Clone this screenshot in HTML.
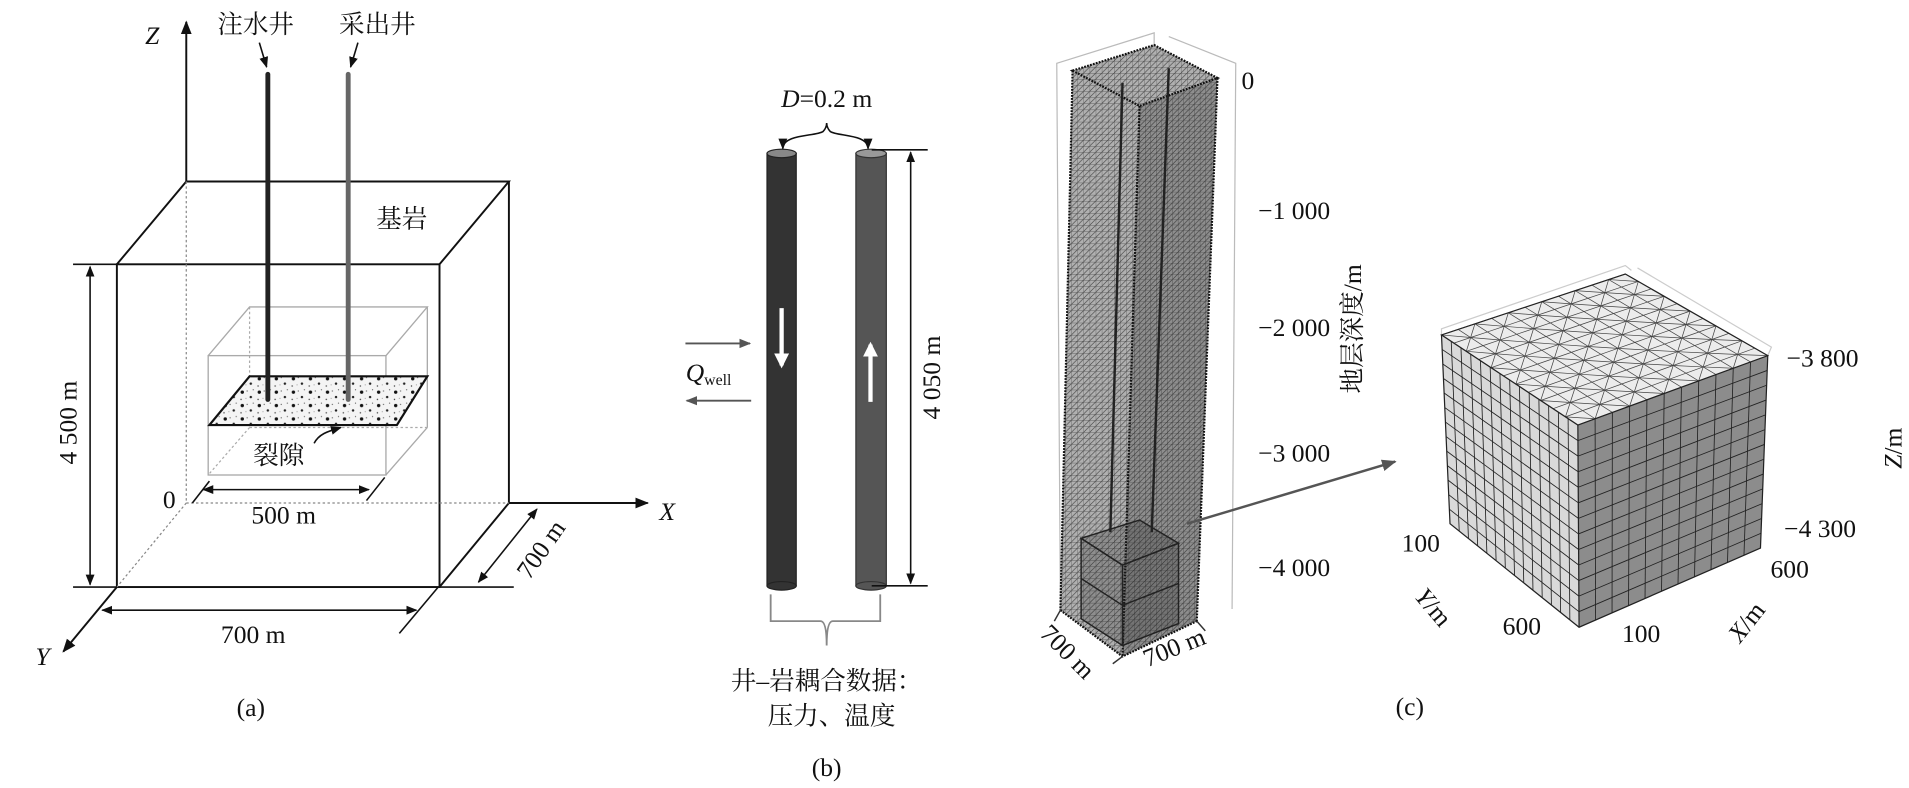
<!DOCTYPE html>
<html><head><meta charset="utf-8"><style>
html,body{margin:0;padding:0;background:#fff;}
svg{display:block;}
text{font-family:"Liberation Serif","Noto Serif CJK SC",serif;fill:#111;}
.cj{font-family:"Liberation Serif","Noto Serif CJK SC",serif;}
</style></head><body>
<svg id="s" width="1909" height="788" viewBox="0 0 1568 647" preserveAspectRatio="none" xmlns="http://www.w3.org/2000/svg">
<defs>
<marker id="ah" viewBox="0 0 10 10" refX="9" refY="5" markerWidth="7" markerHeight="7" orient="auto-start-reverse"><path d="M0,1 L10,5 L0,9 z" fill="#111"/></marker>
<marker id="ahg" viewBox="0 0 10 10" refX="9" refY="5" markerWidth="6" markerHeight="6" orient="auto-start-reverse"><path d="M0,1 L10,5 L0,9 z" fill="#555"/></marker>
<marker id="ahw" viewBox="0 0 10 10" refX="8" refY="5" markerWidth="3.5" markerHeight="3.5" orient="auto"><path d="M0,0 L10,5 L0,10 z" fill="#fff"/></marker>
<pattern id="dots" width="14" height="11" patternUnits="userSpaceOnUse">
<rect width="14" height="11" fill="#f4f4f4"/><circle cx="3" cy="3" r="1.4" fill="#111"/><circle cx="10" cy="7" r="1" fill="#222"/><circle cx="7" cy="2" r=".5" fill="#555"/><circle cx="2" cy="9" r=".6" fill="#444"/><circle cx="12" cy="1" r=".5" fill="#666"/><circle cx="6" cy="8" r=".4" fill="#777"/></pattern>
<pattern id="mesh" width="5" height="5" patternUnits="userSpaceOnUse">
<rect width="5" height="5" fill="#b0b0b0"/><path d="M0,0 L5,0 M0,0 L0,5 M0,5 L5,0" stroke="#444" stroke-width=".5"/></pattern>
<pattern id="meshd" width="4.5" height="4.5" patternUnits="userSpaceOnUse">
<rect width="4.5" height="4.5" fill="#8e8e8e"/><path d="M0,0 L4.5,0 M0,0 L0,4.5 M0,4.5 L4.5,0" stroke="#333" stroke-width=".5"/></pattern>
</defs>

<!-- ===== Panel (a) ===== -->
<g stroke="#111" fill="none" stroke-width="1.6">
<line x1="153" y1="149" x2="153" y2="18" marker-end="url(#ah)"/>
<polyline points="96,217 153,149 418,149 361,217"/>
<rect x="96" y="217" width="265" height="265"/>
<line x1="418" y1="149" x2="418" y2="413"/>
<line x1="361" y1="482" x2="418" y2="413"/>
<line x1="418" y1="413" x2="532" y2="413" marker-end="url(#ah)"/>
<line x1="96" y1="482" x2="52" y2="535" marker-end="url(#ah)"/>
</g>
<g stroke="#888" stroke-width="1" stroke-dasharray="2,2" fill="none">
<line x1="153" y1="149" x2="153" y2="413"/><line x1="153" y1="413" x2="418" y2="413"/><line x1="153" y1="413" x2="96" y2="482"/>
</g>
<g stroke="#aaa" stroke-width="1.1" fill="none">
<polyline points="171,292 205,252 351,252 317,292"/>
<rect x="171" y="292" width="146" height="98"/>
<line x1="351" y1="252" x2="351" y2="351"/><line x1="317" y1="390" x2="351" y2="351"/>
</g>
<g stroke="#aaa" stroke-width="1" stroke-dasharray="2,2" fill="none">
<line x1="205" y1="252" x2="205" y2="351"/><line x1="205" y1="351" x2="351" y2="351"/><line x1="205" y1="351" x2="171" y2="390"/>
</g>
<polygon points="205,309 351,309 326,349 172,349" fill="url(#dots)" stroke="#111" stroke-width="1.8"/>
<line x1="220" y1="61" x2="220" y2="328" stroke="#222" stroke-width="4" stroke-linecap="round"/>
<line x1="286" y1="61" x2="286" y2="328" stroke="#666" stroke-width="4" stroke-linecap="round"/>
<g stroke="#111" stroke-width="1.3" fill="none">
<line x1="213" y1="35" x2="219" y2="55" marker-end="url(#ah)"/>
<line x1="294" y1="35" x2="288" y2="55" marker-end="url(#ah)"/>
<path d="M258,364 C262,356 270,354 280,351" marker-end="url(#ah)"/>
<line x1="74" y1="219" x2="74" y2="480" marker-start="url(#ah)" marker-end="url(#ah)"/>
<line x1="60" y1="217" x2="96" y2="217"/><line x1="60" y1="482" x2="96" y2="482"/>
<line x1="84" y1="501" x2="342" y2="501" marker-start="url(#ah)" marker-end="url(#ah)"/>
<line x1="328" y1="520" x2="360" y2="482"/>
<line x1="361" y1="482" x2="422" y2="482"/>
<line x1="393" y1="478" x2="441" y2="418" marker-start="url(#ah)" marker-end="url(#ah)"/>
<line x1="167" y1="402" x2="303" y2="402" marker-start="url(#ah)" marker-end="url(#ah)"/>
<line x1="158" y1="413" x2="172" y2="395"/><line x1="301" y1="411" x2="316" y2="392"/>
</g>
<g font-size="21">
<text x="125" y="36" text-anchor="middle" font-style="italic">Z</text>
<text x="548" y="427" text-anchor="middle" font-style="italic">X</text>
<text x="35" y="546" text-anchor="middle" font-style="italic">Y</text>
<text class="cj" x="210" y="27" text-anchor="middle">注水井</text>
<text class="cj" x="310" y="27" text-anchor="middle">采出井</text>
<text class="cj" x="330" y="187" text-anchor="middle">基岩</text>
<text class="cj" x="229" y="381" text-anchor="middle">裂隙</text>
<text x="139" y="417" text-anchor="middle">0</text>
<text x="233" y="430" text-anchor="middle">500 m</text>
<text x="208" y="528" text-anchor="middle">700 m</text>
<text transform="translate(63,347) rotate(-90)" text-anchor="middle">4 500 m</text>
<text transform="translate(450,455) rotate(-55)" text-anchor="middle">700 m</text>
<text x="206" y="588" text-anchor="middle">(a)</text>
</g>

<!-- ===== Panel (b) ===== -->
<rect x="630" y="126" width="24" height="355" fill="#333" stroke="#222"/>
<ellipse cx="642" cy="126" rx="12" ry="3.5" fill="#888" stroke="#222"/>
<ellipse cx="642" cy="481" rx="12" ry="3.5" fill="#333" stroke="#222"/>
<rect x="703" y="126" width="25" height="355" fill="#555" stroke="#333"/>
<ellipse cx="715.5" cy="126" rx="12.5" ry="3.5" fill="#999" stroke="#333"/>
<ellipse cx="715.5" cy="481" rx="12.5" ry="3.5" fill="#555" stroke="#333"/>
<line x1="642" y1="253" x2="642" y2="300" stroke="#fff" stroke-width="3.5" marker-end="url(#ahw)"/>
<line x1="715" y1="330" x2="715" y2="283" stroke="#fff" stroke-width="3.5" marker-end="url(#ahw)"/>
<g stroke="#111" stroke-width="1.3" fill="none">
<path d="M643,122 C643,110 670,112 676,108 C678,106 679,103 679,101 C679,103 680,106 682,108 C688,112 713,110 713,122" marker-start="url(#ah)" marker-end="url(#ah)"/>
<line x1="748" y1="125" x2="748" y2="479" marker-start="url(#ah)" marker-end="url(#ah)"/>
<line x1="716" y1="123" x2="762" y2="123"/><line x1="716" y1="481" x2="762" y2="481"/>
</g>
<g stroke="#555" stroke-width="1.6" fill="none">
<line x1="563" y1="282" x2="616" y2="282" marker-end="url(#ahg)"/>
<line x1="617" y1="329" x2="564" y2="329" marker-end="url(#ahg)"/>
</g>
<path d="M633,488 L633,510 L674,510 Q679,510 679,530 Q679,510 684,510 L723,510 L723,488" stroke="#888" stroke-width="1.5" fill="none"/>
<g font-size="21">
<text x="679" y="88" text-anchor="middle"><tspan font-style="italic">D</tspan>=0.2 m</text>
<text x="582" y="313" text-anchor="middle" font-style="italic">Q<tspan font-size="13" font-style="normal" dy="3">well</tspan></text>
<text transform="translate(772,310) rotate(-90)" text-anchor="middle">4 050 m</text>
<text class="cj" x="679" y="566" text-anchor="middle">井–岩耦合数据：</text>
<text class="cj" x="683" y="595" text-anchor="middle">压力、温度</text>
<text x="679" y="637" text-anchor="middle">(b)</text>
</g>

<!-- ===== Panel (c) column ===== -->
<g stroke="#bbb" stroke-width="1" fill="none">
<polyline points="871,501 868,52 948,27 948,37"/>
<polyline points="960,30 1015,52 1012,500"/>
</g>
<polygon points="881,58 936,87 922,539 871,501" fill="url(#mesh)"/>
<polygon points="936,87 1000,64 983,510 922,539" fill="url(#meshd)"/>
<polygon points="881,58 948,37 1000,64 936,87" fill="url(#mesh)"/>
<g stroke="#111" stroke-width="1.8" fill="none" stroke-dasharray="1.5,1">
<polygon points="881,58 948,37 1000,64 936,87"/>
<line x1="936" y1="87" x2="922" y2="539"/>
<line x1="881" y1="58" x2="871" y2="501"/>
<line x1="1000" y1="64" x2="983" y2="510"/>
<polyline points="871,501 922,539 983,510"/>
</g>
<g stroke="#222" stroke-width="1.2" fill="rgba(40,40,40,0.25)">
<polygon points="888,442 936,427 968,446 922,464"/>
<polygon points="888,442 922,464 922,530 888,508"/>
<polygon points="922,464 968,446 968,512 922,530"/>
<line x1="888" y1="475" x2="922" y2="497"/><line x1="922" y1="497" x2="968" y2="479"/>
</g>
<line x1="922" y1="68" x2="912" y2="437" stroke="#222" stroke-width="2"/>
<line x1="960" y1="56" x2="946" y2="437" stroke="#222" stroke-width="2"/>
<g stroke="#333" stroke-width="1.2">
<line x1="866" y1="510" x2="871" y2="501"/><line x1="914" y1="545" x2="922" y2="539"/><line x1="983" y1="510" x2="990" y2="518"/>
</g>
<line x1="975" y1="430" x2="1146" y2="379" stroke="#555" stroke-width="2" marker-end="url(#ahg)"/>
<g font-size="21">
<text x="1025" y="73" text-anchor="middle">0</text>
<text x="1063" y="180" text-anchor="middle">−1 000</text>
<text x="1063" y="276" text-anchor="middle">−2 000</text>
<text x="1063" y="379" text-anchor="middle">−3 000</text>
<text x="1063" y="473" text-anchor="middle">−4 000</text>
<text class="cj" transform="translate(1118,270) rotate(-90)" text-anchor="middle">地层深度/m</text>
<text transform="translate(872,540) rotate(45)" text-anchor="middle">700 m</text>
<text transform="translate(967,538) rotate(-22)" text-anchor="middle">700 m</text>
</g>

<!-- ===== cube ===== -->
<g stroke="#ccc" stroke-width="1" fill="none">
<polyline points="1184,275 1184,270 1335,218 1340,222"/>
<polyline points="1345,220 1455,285 1452,292"/>
</g>
<polygon points="1184,275 1296,349 1297,515 1191,430" fill="#d9d9d9"/>
<polygon points="1296,349 1452,292 1446,450 1297,515" fill="#8c8c8c"/>
<polygon points="1184,275 1335,225 1452,292 1296,349" fill="#ececec"/>
<g id="grid" stroke="#222" stroke-width=".7" fill="none"></g>
<g id="tgrid" stroke="#444" stroke-width=".6" fill="none"></g>
<g stroke="#222" stroke-width="1" fill="none">
<polygon points="1184,275 1335,225 1452,292 1296,349"/>
<polyline points="1184,275 1191,430 1297,515 1446,450 1452,292"/>
<line x1="1296" y1="349" x2="1297" y2="515"/>
</g>
<g font-size="21">
<text x="1497" y="301" text-anchor="middle">−3 800</text>
<text x="1495" y="441" text-anchor="middle">−4 300</text>
<text x="1470" y="474" text-anchor="middle">600</text>
<text transform="translate(1440,515) rotate(-52)" text-anchor="middle"><tspan font-style="italic">X</tspan>/m</text>
<text x="1348" y="527" text-anchor="middle">100</text>
<text x="1250" y="521" text-anchor="middle">600</text>
<text transform="translate(1172,503) rotate(50)" text-anchor="middle"><tspan font-style="italic">Y</tspan>/m</text>
<text x="1167" y="453" text-anchor="middle">100</text>
<text transform="translate(1562,368) rotate(-90)" text-anchor="middle"><tspan font-style="italic">Z</tspan>/m</text>
<text x="1158" y="587" text-anchor="middle">(c)</text>
</g>
</svg>
<script>
(function(){
var ns='http://www.w3.org/2000/svg';
function L(g,a,b){var l=document.createElementNS(ns,'line');l.setAttribute('x1',a[0]);l.setAttribute('y1',a[1]);l.setAttribute('x2',b[0]);l.setAttribute('y2',b[1]);g.appendChild(l);}
function lerp(p,q,t){return [p[0]+(q[0]-p[0])*t,p[1]+(q[1]-p[1])*t];}
function bil(A,B,C,D,u,v){return lerp(lerp(A,B,u),lerp(D,C,u),v);}
var g=document.getElementById('grid'),tg=document.getElementById('tgrid');
function face(A,B,C,D,nu,nv){for(var i=1;i<nu;i++){var t=i/nu;L(g,lerp(A,B,t),lerp(D,C,t));}for(var j=1;j<nv;j++){var s=j/nv;L(g,lerp(A,D,s),lerp(B,C,s));}}
var TL=[1184,275],BK=[1335,225],RT=[1452,292],FR=[1296,349],FB=[1297,515],LB=[1191,430],RB=[1446,450];
face(TL,FR,FB,LB,14,13);
face(FR,RT,RB,FB,11,13);
var n=11;
for(var i=0;i<n;i++){for(var j=0;j<n;j++){
 var u0=i/n,u1=(i+1)/n,v0=j/n,v1=(j+1)/n;
 var p00=bil(TL,BK,RT,FR,u0,v0),p10=bil(TL,BK,RT,FR,u1,v0),p01=bil(TL,BK,RT,FR,u0,v1),p11=bil(TL,BK,RT,FR,u1,v1);
 if(j==0)L(tg,p00,p10); if(i==0)L(tg,p00,p01);
 L(tg,p10,p11);L(tg,p01,p11);
 if((i+j)%2==0)L(tg,p00,p11);else L(tg,p10,p01);
}}
})();
</script>
</body></html>
